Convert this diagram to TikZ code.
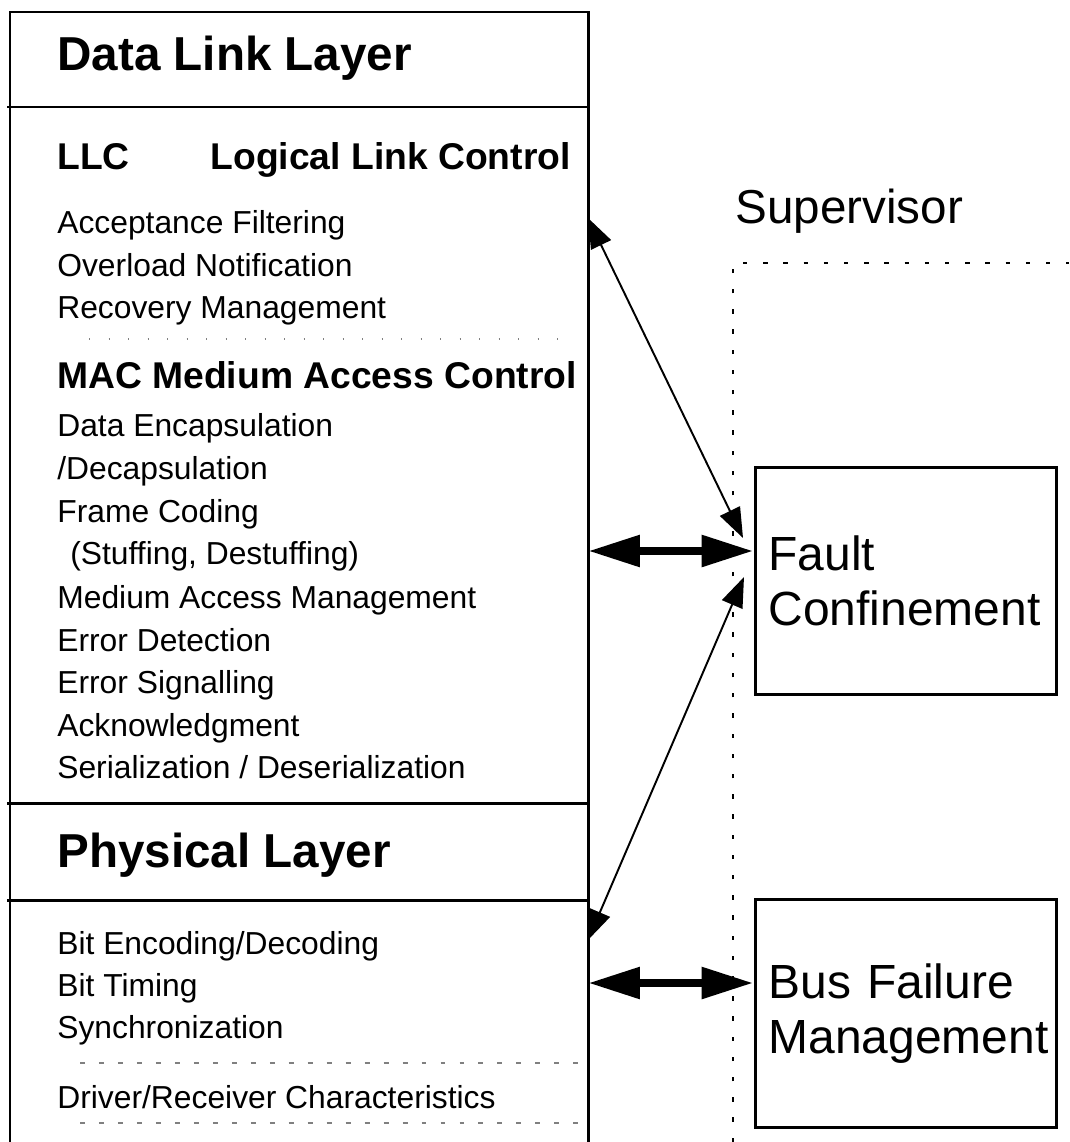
\documentclass[tikz,border=0pt]{standalone}
\usepackage{fontspec}
\setmainfont{Liberation Sans}
\usetikzlibrary{arrows.meta, positioning}

\begin{document}
\begin{tikzpicture}[x=0.02cm, y=-0.02cm,
    boxline/.style={line width=1.7pt},
    item/.style={anchor=base west, inner sep=0pt, font=\fontsize{18.1}{22}\selectfont},
    sublayer/.style={anchor=base west, inner sep=0pt, font=\fontsize{21.2}{25}\selectfont\bfseries},
    layertitle/.style={anchor=base west, inner sep=0pt, font=\fontsize{27.1}{32}\selectfont\bfseries},
    sidebox/.style={draw, line width=1.7pt, minimum width=6.04cm, minimum height=4.56cm,
        text width=5.5cm, inner xsep=0.27cm, align=left, font=\fontsize{27.3}{31.3}\selectfont},
    dotsep/.style={gray, line width=0.6pt, dash pattern=on 0.8pt off 10.3pt},
    dashsep/.style={gray, line width=0.6pt, dash pattern=on 2.8pt off 8pt},
    superline/.style={line width=0.7pt, dash pattern=on 2.5pt off 9pt},
    linkarrow/.style={line width=1.1pt,
        {Triangle[length=0.6cm,width=0.44cm]}-{Triangle[length=0.6cm,width=0.44cm]}},
    busarrow/.style={line width=5pt,
        {Triangle[length=1.04cm,width=0.6cm]}-{Triangle[length=1.04cm,width=0.6cm]}}
]
    \useasboundingbox (0,0) rectangle (1069,1142);

    % Layer box
    \draw[boxline] (10,1142) -- (10,12) -- (588,12) -- (588,1142);
    \draw[boxline] (7,107) -- (588,107);
    \draw[boxline] (7,803) -- (588,803);
    \draw[boxline] (7,900) -- (588,900);

    % Data link layer
    \node[layertitle] (dll) at (57,71) {Data Link Layer};
    \node[sublayer] (llc) at (57,170) {LLC};
    \node[sublayer, anchor=base east] (llcname) at (571,170) {Logical Link Control};
    \node[item] (accept) at (57,234) {Acceptance Filtering};
    \node[item] (overload) at (57,276) {Overload Notification};
    \node[item] (recovery) at (57,318) {Recovery Management};
    \draw[dotsep] (89,339) -- (560,339);
    \node[sublayer] (mac) at (57,388) {MAC Medium Access Control};
    \node[item] (encap) at (57,436) {Data Encapsulation};
    \node[item] (decap) at (57,479) {/Decapsulation};
    \node[item] (coding) at (57,522) {Frame Coding};
    \node[item] (stuffing) at (70,564) {(Stuffing, Destuffing)};
    \node[item] (access) at (57,608) {Medium Access Management};
    \node[item] (detect) at (57,651) {Error Detection};
    \node[item] (signal) at (57,693) {Error Signalling};
    \node[item] (ack) at (57,736) {Acknowledgment};
    \node[item] (serial) at (57,778) {Serialization / Deserialization};

    % Physical layer
    \node[layertitle] (phy) at (57,867) {Physical Layer};
    \node[item] (bitenc) at (57,954) {Bit Encoding/Decoding};
    \node[item] (bittime) at (57,996) {Bit Timing};
    \node[item] (sync) at (57,1038) {Synchronization};
    \draw[dashsep] (80,1063) -- (588,1063);
    \node[item] (driver) at (57,1108) {Driver/Receiver Characteristics};
    \draw[dashsep] (80,1123) -- (588,1123);

    % Supervisor
    \node[anchor=base west, inner sep=0pt, font=\fontsize{27.1}{32}\selectfont] (supervisor) at (735,223) {Supervisor};
    \draw[superline] (733,1142) -- (733,263) -- (1069,263);
    \node[sidebox] (fault) at (906,581) {Fault\\Confinement};
    \node[sidebox] (busfail) at (906,1013.5) {Bus Failure\\Management};

    % Connections
    \coordinate (llcport) at (588,218);
    \coordinate (macport) at (588,551);
    \coordinate (phyport) at (588,940);
    \coordinate (bitport) at (588,983);
    \coordinate (faulttop) at (743,538);
    \coordinate (faultlow) at (744,577);
    \coordinate (faultmid) at (fault.west |- macport);
    \coordinate (busport) at (busfail.west |- bitport);
    \draw[linkarrow] (llcport) -- (faulttop);
    \draw[busarrow] (macport) -- (faultmid);
    \draw[linkarrow] (faultlow) -- (phyport);
    \draw[busarrow] (bitport) -- (busport);
\end{tikzpicture}
\end{document}
